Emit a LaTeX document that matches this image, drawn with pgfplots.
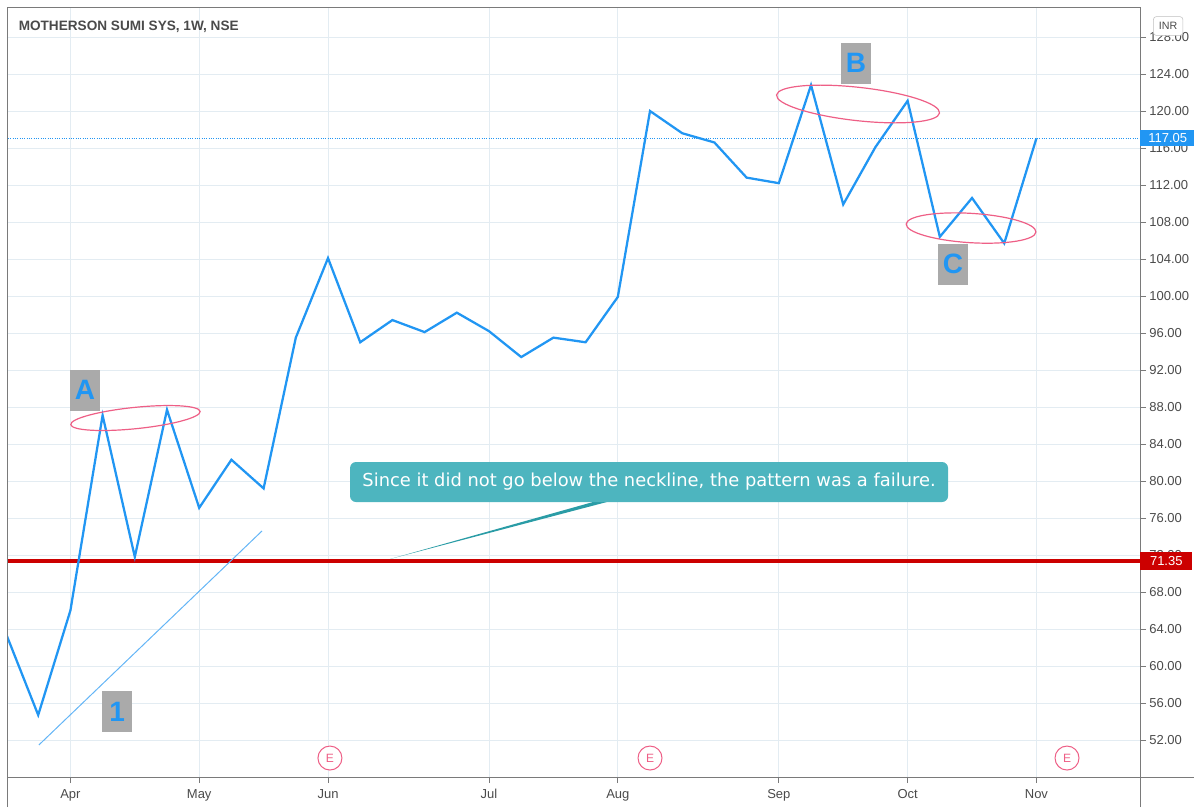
\documentclass[border=0pt]{standalone}
\usepackage{pgfplots}
\pgfplotsset{compat=1.18}
\usepackage{fontspec}
\setmainfont{Liberation Sans}
\newfontfamily\callfont{DejaVu Sans}
\definecolor{tvblue}{HTML}{2196F3}
\definecolor{tvred}{HTML}{CC0000}
\definecolor{tvgrid}{HTML}{E3ECF2}
\definecolor{tvaxis}{HTML}{7A7A7A}
\definecolor{tvtext}{HTML}{4A4A4A}
\definecolor{tvteal}{HTML}{4DB5BF}
\definecolor{tvtealdk}{HTML}{2A9CA6}
\definecolor{tvpink}{HTML}{EE5F86}
\definecolor{tvlabel}{HTML}{AAAAAA}
\definecolor{tvtrend}{HTML}{64B5F6}

% weekly closes, x = bar index (Apr=2, May=6, ... Nov=32)
\pgfplotstableread{
i close
0 63.5
1 54.7
2 66.0
3 87.1
4 71.8
5 87.7
6 77.1
7 82.3
8 79.2
9 95.5
10 104.1
11 95.0
12 97.4
13 96.1
14 98.2
15 96.2
16 93.4
17 95.5
18 95.0
19 99.9
20 120.0
21 117.6
22 116.6
23 112.8
24 112.2
25 122.8
26 109.9
27 116.1
28 121.1
29 106.4
30 110.6
31 105.7
32 117.05
}\closes

\begin{document}
\begin{tikzpicture}
\begin{axis}[
    name=ax,
    scale only axis, width=849pt, height=576.75pt,
    xmin=0.062, xmax=35.217, ymin=48.0, ymax=131.14,
    clip mode=individual,
    axis line style={draw=tvaxis, line width=0.75pt},
    grid=major, major grid style={draw=tvgrid, line width=0.75pt},
    xtick={2,6,10,15,19,24,28,32},
    xticklabels={Apr,May,Jun,Jul,Aug,Sep,Oct,Nov},
    ytick={52,56,...,128},
    xtick pos=bottom, ytick pos=right, yticklabel pos=right,
    tick align=outside, major tick length=4.5pt,
    tick style={draw=tvaxis, line width=0.75pt},
    ticklabel style={font=\fontsize{9.75}{11}\selectfont, text=tvtext},
    yticklabel style={anchor=west, xshift=-1pt},
    xticklabel style={text height=7.2pt, text depth=2pt, yshift=-1pt},
    /pgf/number format/.cd, fixed, fixed zerofill, precision=2, assume math mode=true,
]
% neckline and last price
\addplot[tvred, line width=2.6pt, forget plot] coordinates {(0.062,71.35) (35.217,71.35)};
\addplot[tvblue, densely dotted, line width=0.75pt, forget plot] coordinates {(0.062,117.05) (35.217,117.05)};
% trend line 1
\addplot[tvtrend, line width=0.75pt, forget plot] coordinates {(1.02,51.46) (7.95,74.6)};
% price
\addplot[tvblue, line width=1.7pt, line join=miter] table[x=i, y=close] {\closes};

% callout
\fill[tvtealdk] (axis cs:11.93,71.57) -- (axis cs:18.23,77.73) -- (axis cs:18.66,77.73) -- cycle;
\node[fill=tvteal, rounded corners=4.5pt, minimum width=448.5pt, minimum height=30pt,
      text=white, font=\callfont\fontsize{13.4}{15}\selectfont, inner sep=0pt]
      at (axis cs:19.97,79.89) {Since it did not go below the neckline, the pattern was a failure.};

% ellipses
\draw[tvpink, line width=0.9pt, rotate around={5.8:(axis cs:4.02,86.81)}]
     (axis cs:4.02,86.81) ellipse [x radius=48.75pt, y radius=8pt];
\draw[tvpink, line width=0.9pt, rotate around={-6.3:(axis cs:26.46,120.76)}]
     (axis cs:26.46,120.76) ellipse [x radius=61.5pt, y radius=12.5pt];
\draw[tvpink, line width=0.9pt, rotate around={-3.5:(axis cs:29.97,107.35)}]
     (axis cs:29.97,107.35) ellipse [x radius=48.75pt, y radius=11pt];

% letter labels
\tikzset{lab/.style={fill=tvlabel, text=tvblue, font=\bfseries\fontsize{21}{22}\selectfont,
    minimum width=22pt, minimum height=30.75pt, inner sep=0pt}}
\node[lab] at (axis cs:2.45,89.84) {A};
\node[lab] at (axis cs:26.40,125.19) {B};
\node[lab] at (axis cs:29.41,103.46) {C};
\node[lab] at (axis cs:3.45,55.03) {1};

% earnings markers
\tikzset{earn/.style={circle, draw=tvpink, fill=white, line width=0.75pt, minimum size=18pt,
    inner sep=0pt, text=tvpink, font=\fontsize{9}{10}\selectfont}}
\node[earn] at (axis cs:10.06,50.05) {E};
\node[earn] at (axis cs:20.0,50.05) {E};
\node[earn] at (axis cs:32.95,50.05) {E};

% title
\node[anchor=west, text=tvtext, font=\bfseries\fontsize{10.2}{12}\selectfont]
     at (axis cs:0.25,129.08) {MOTHERSON SUMI SYS, 1W, NSE};

% axis extensions
\draw[tvaxis, line width=0.75pt] ([yshift=-22.5pt]rel axis cs:1,0) -- (rel axis cs:1,0) -- ([xshift=40.5pt]rel axis cs:1,0);
\draw[tvaxis, line width=0.75pt] ([yshift=-22.5pt]rel axis cs:0,0) -- (rel axis cs:0,0);

% price labels on the scale
\node[anchor=west, fill=tvred, text=white, minimum width=39pt, minimum height=14pt, inner sep=0pt,
      font=\fontsize{9.75}{11}\selectfont] at (axis cs:35.217,71.35) {71.35};
\node[anchor=west, fill=tvblue, text=white, minimum width=41.25pt, minimum height=12pt, inner sep=0pt,
      font=\fontsize{9.75}{11}\selectfont] at (axis cs:35.217,117.05) {117.05};
\node[draw=gray!50, fill=white, rounded corners=2pt, minimum width=22pt, minimum height=14pt, inner sep=0pt,
      text=tvtext, font=\fontsize{8}{9}\selectfont] at (axis cs:36.09,129.19) {INR};
\end{axis}
\pgfresetboundingbox
\useasboundingbox ([xshift=-6pt,yshift=-22.5pt]ax.south west) rectangle ++(895.5pt,605.25pt);
\end{tikzpicture}
\end{document}
